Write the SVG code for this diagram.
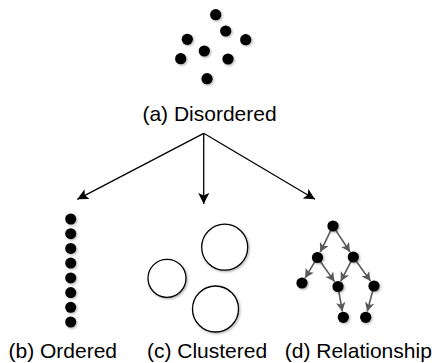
<svg xmlns="http://www.w3.org/2000/svg" width="437" height="363" viewBox="0 0 437 363">
<style>
.dot{fill:#000;filter:url(#sh)}
.ring{fill:#fff;stroke:#000;stroke-width:1.3;filter:url(#sh)}
.lbl{font-family:"Liberation Sans",Arial,Helvetica,sans-serif;font-size:21px;fill:#000;text-anchor:middle}
.main{stroke:#000;stroke-width:1.3;fill:none;marker-end:url(#ah)}
.rel{stroke:#5a5a5a;stroke-width:1.6;fill:none;marker-end:url(#ag)}
</style>
<defs>
<filter id="sh" x="-50%" y="-50%" width="200%" height="200%">
<feDropShadow dx="1.2" dy="1.2" stdDeviation="0.8" flood-color="#000" flood-opacity="0.3"/>
</filter>
<marker id="ah" markerUnits="userSpaceOnUse" markerWidth="12" markerHeight="11" refX="11" refY="5.5" orient="auto">
<path d="M0,0 L11,5.5 L0,11 L2.5,5.5 z" fill="#000"/>
</marker>
<marker id="ag" markerUnits="userSpaceOnUse" markerWidth="10" markerHeight="10" refX="9" refY="4.75" orient="auto">
<path d="M0,0 L9,4.75 L0,9.5 L2.2,4.75 z" fill="#5a5a5a"/>
</marker>
</defs>
<g id="disordered">
<circle class="dot" cx="215.7" cy="14.7" r="5.6"/>
<circle class="dot" cx="225.7" cy="31" r="5.6"/>
<circle class="dot" cx="245.7" cy="39.7" r="5.6"/>
<circle class="dot" cx="187.3" cy="39.3" r="5.6"/>
<circle class="dot" cx="204.3" cy="51" r="5.6"/>
<circle class="dot" cx="180.7" cy="58.7" r="5.6"/>
<circle class="dot" cx="228" cy="59" r="5.6"/>
<circle class="dot" cx="207" cy="78.7" r="5.6"/>
<text class="lbl" x="209.5" y="120.5">(a) Disordered</text>
</g>
<g id="connectors">
<line class="main" x1="203.7" y1="133.3" x2="77.3" y2="199.3"/>
<line class="main" x1="203.7" y1="133.3" x2="203.7" y2="204"/>
<line class="main" x1="203.7" y1="133.3" x2="315" y2="199.3"/>
</g>
<g id="ordered">
<circle class="dot" cx="70.7" cy="219" r="5.5"/>
<circle class="dot" cx="70.7" cy="233.7" r="5.5"/>
<circle class="dot" cx="70.7" cy="248.4" r="5.5"/>
<circle class="dot" cx="70.7" cy="263.1" r="5.5"/>
<circle class="dot" cx="70.7" cy="277.9" r="5.5"/>
<circle class="dot" cx="70.7" cy="292.6" r="5.5"/>
<circle class="dot" cx="70.7" cy="307.3" r="5.5"/>
<circle class="dot" cx="70.7" cy="322" r="5.5"/>
<text class="lbl" x="62.8" y="358">(b) Ordered</text>
</g>
<g id="clustered">
<circle class="ring" cx="224.7" cy="247.2" r="23"/>
<circle class="ring" cx="167" cy="278.3" r="19"/>
<circle class="ring" cx="215.5" cy="309" r="23"/>
<text class="lbl" x="207" y="358">(c) Clustered</text>
</g>
<g id="relationship">
<g>
<line class="rel" x1="330.6" y1="230.9" x2="320.2" y2="252.1"/>
<line class="rel" x1="336" y1="230.6" x2="350" y2="252"/>
<line class="rel" x1="314.6" y1="262.2" x2="305.1" y2="277.9"/>
<line class="rel" x1="320.7" y1="262" x2="334.5" y2="281.6"/>
<line class="rel" x1="350.8" y1="261.9" x2="340.8" y2="281.2"/>
<line class="rel" x1="356.5" y1="261.5" x2="370.5" y2="281.1"/>
<line class="rel" x1="338.9" y1="291.9" x2="342.3" y2="311.4"/>
<line class="rel" x1="372.6" y1="291.3" x2="367.2" y2="311.5"/>
</g>
<circle class="dot" cx="333" cy="226" r="5.6"/>
<circle class="dot" cx="317.5" cy="257.5" r="5.6"/>
<circle class="dot" cx="353.3" cy="257" r="5.6"/>
<circle class="dot" cx="302" cy="283" r="5.6"/>
<circle class="dot" cx="338" cy="286.5" r="5.6"/>
<circle class="dot" cx="374" cy="286" r="5.6"/>
<circle class="dot" cx="343.3" cy="317.3" r="5.6"/>
<circle class="dot" cx="365.7" cy="317.3" r="5.6"/>
<text class="lbl" x="358.3" y="358">(d) Relationship</text>
</g>
</svg>
